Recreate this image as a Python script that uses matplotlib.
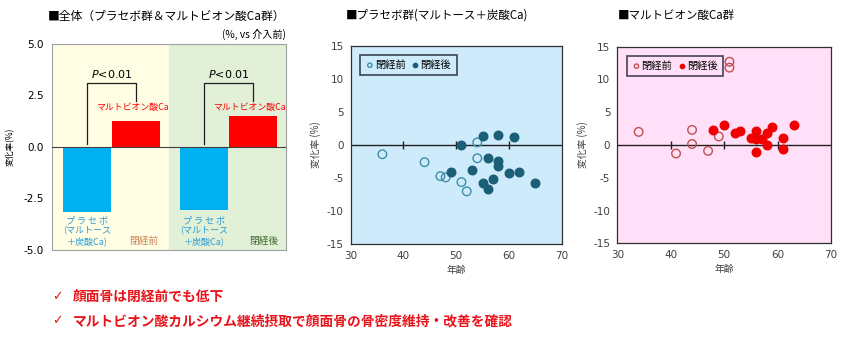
import numpy as np
import matplotlib.pyplot as plt

plt.rcParams['font.family'] = ['Noto Sans CJK JP', 'DejaVu Sans']
plt.rcParams['axes.unicode_minus'] = False

# panel 1: mean change (%), pre/post menopause
bar_pos = [0.6, 1.43, 2.6, 3.43]
bar_vals = [-3.15, 1.28, -3.05, 1.48]
bar_cols = ['#00B0F0', '#FF0000', '#00B0F0', '#FF0000']

# panel 2: placebo group (age, change %)
plc_pre_age = [36, 44, 47, 48, 51, 52, 54, 54]
plc_pre_val = [-1.4, -2.6, -4.7, -4.9, -5.6, -7.0, 0.4, -2.0]
plc_post_age = [49, 51, 53, 55, 55, 56, 56, 57, 58, 58, 58, 60, 61, 62, 65]
plc_post_val = [-4.1, 0.0, -3.8, 1.3, -5.8, -2.0, -6.7, -5.2, 1.5, -2.4, -3.1, -4.3, 1.2, -4.1, -5.8]

# panel 3: maltobionic acid Ca group
ca_pre_age = [34, 41, 44, 44, 47, 49, 51, 51]
ca_pre_val = [2.0, -1.3, 2.3, 0.15, -0.9, 1.3, 12.7, 11.8]
ca_post_age = [48, 50, 52, 53, 55, 56, 56, 56, 57, 58, 58, 59, 61, 61, 63]
ca_post_val = [2.3, 3.1, 1.8, 2.2, 1.1, 2.2, 0.9, -1.1, 0.9, 1.9, 0.0, 2.7, 1.1, -0.6, 3.1]

fig = plt.figure(figsize=(8.5, 3.38), dpi=100)

# ---------- panel 1 ----------
ax1 = fig.add_axes([0.0612, 0.2604, 0.2753, 0.6095])
ax1.axvspan(0, 2, color='#FFFDE3', zorder=0)
ax1.axvspan(2, 4, color='#E2F0D8', zorder=0)
ax1.bar(bar_pos, bar_vals, width=0.82, color=bar_cols, zorder=2)
ax1.axhline(0, color='#404040', lw=0.8, zorder=3)
ax1.set_xlim(0, 4)
ax1.set_ylim(-5, 5)
ax1.set_yticks([5, 2.5, 0, -2.5, -5])
ax1.set_yticklabels(['5.0', '2.5', '0.0', '-2.5', '-5.0'], fontsize=7.5, family='DejaVu Sans')
ax1.set_xticks([])
ax1.tick_params(axis='y', length=0, pad=6)
for s in ax1.spines.values():
    s.set_color('#A0A0A0')
    s.set_linewidth(0.8)
ax1.set_ylabel('変化率(%)', fontsize=6, labelpad=6)
for a, b in [(0, 1), (2, 3)]:
    xa, xb = bar_pos[a], bar_pos[b]
    ax1.plot([xa, xa, xb, xb], [0.15, 3.1, 3.1, 2.25], color='#202020', lw=0.9, zorder=4)
    ax1.text((xa + xb) / 2, 3.25, '$P$<0.01', ha='center', va='bottom', fontsize=8,
             family='DejaVu Sans')
    ax1.text(bar_pos[b] - 0.06, 1.7, 'マルトビオン酸Ca', ha='center', va='bottom',
             fontsize=6.4, color='#FF0000')
    ax1.text(xa, -3.35, 'プ ラ セ ボ\n(マルトース\n＋炭酸Ca)', ha='center', va='top',
             fontsize=6.5, color='#2A9AD6', linespacing=1.15)
ax1.text(1.56, -4.55, '閉経前', ha='center', va='center', fontsize=7, color='#C8865A')
ax1.text(3.62, -4.55, '閉経後', ha='center', va='center', fontsize=7, color='#3C6A2A')
fig.text(48 / 850, 1 - 16 / 338, '■全体（プラセボ群＆マルトビオン酸Ca群）', ha='left',
         va='center', fontsize=8.5)
fig.text(286 / 850, 1 - 34 / 338, '(%, vs 介入前)', ha='right', va='center', fontsize=7.3)


def scatter_panel(rect, bg, pre_age, pre_val, post_age, post_val, c_open, c_fill, title, title_x):
    ax = fig.add_axes(rect)
    ax.set_facecolor(bg)
    ax.axhline(0, color='#202020', lw=1.0, zorder=1)
    ax.plot([40, 50, 60], [0, 0, 0], ls='none', marker='|', ms=6, mew=1.0, color='#202020', zorder=1)
    ax.scatter(pre_age, pre_val, s=38, facecolors='none', edgecolors=c_open, linewidths=1.0,
               zorder=3, label='閉経前')
    ax.scatter(post_age, post_val, s=38, color=c_fill, edgecolors=c_fill, zorder=3, label='閉経後')
    ax.set_xlim(30, 70)
    ax.set_ylim(-15, 15)
    ax.set_xticks([30, 40, 50, 60, 70])
    ax.set_yticks([15, 10, 5, 0, -5, -10, -15])
    ax.tick_params(labelsize=7.5, length=0, pad=5, colors='#404040')
    for lab in ax.get_xticklabels() + ax.get_yticklabels():
        lab.set_family('DejaVu Sans')
    for s in ax.spines.values():
        s.set_color('#303030')
        s.set_linewidth(0.9)
    ax.set_ylabel('変化率 (%)', fontsize=7, color='#404040', labelpad=4)
    ax.set_xlabel('年齢', fontsize=7, color='#404040', labelpad=3)
    leg = ax.legend(loc='upper left', fontsize=7.4, frameon=True, fancybox=False,
                    handletextpad=0.05, columnspacing=0.5, ncol=2, markerscale=0.5,
                    borderpad=0.5, handlelength=0.9, bbox_to_anchor=(0.02, 0.98))
    leg.get_frame().set_edgecolor('#1A1A2A')
    leg.get_frame().set_linewidth(1.2)
    leg.get_frame().set_facecolor(bg)
    fig.text(title_x, 1 - 15 / 338, title, ha='left', va='center', fontsize=8.3)
    return ax


scatter_panel([0.4126, 0.2772, 0.2482, 0.5876], '#CDEBFA', plc_pre_age, plc_pre_val,
              plc_post_age, plc_post_val, '#3F8FAA', '#1B5E78',
              '■プラセボ群(マルトース＋炭酸Ca)', 346 / 850)
scatter_panel([0.7262, 0.2802, 0.2514, 0.5817], '#FFE0F8', ca_pre_age, ca_pre_val,
              ca_post_age, ca_post_val, '#C0504D', '#F00000',
              '■マルトビオン酸Ca群', 618 / 850)

# conclusions
red = '#E8141B'
fig.text(52 / 850, 1 - 297 / 338, '✓', ha='left', va='center', fontsize=9, color=red,
         family=['DejaVu Sans'])
fig.text(52 / 850, 1 - 321 / 338, '✓', ha='left', va='center', fontsize=9, color=red,
         family=['DejaVu Sans'])
fig.text(73 / 850, 1 - 297 / 338, '顔面骨は閉経前でも低下', ha='left', va='center',
         fontsize=9.9, color=red, weight='bold')
fig.text(73 / 850, 1 - 321 / 338, 'マルトビオン酸カルシウム継続摂取で顔面骨の骨密度維持・改善を確認',
         ha='left', va='center', fontsize=9.9, color=red, weight='bold')

fig.savefig('out.png', dpi=100)
